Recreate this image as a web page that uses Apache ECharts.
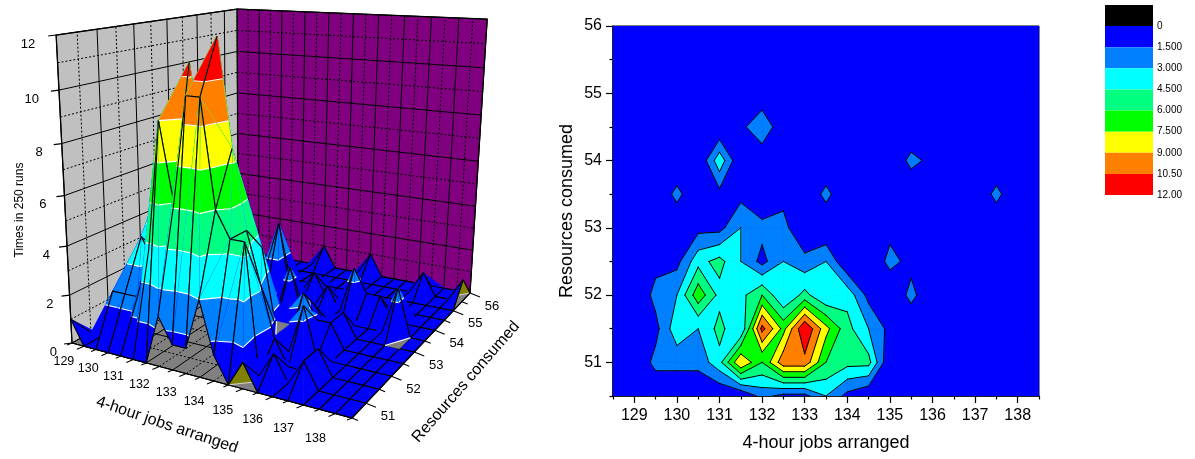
<!DOCTYPE html>
<html><head><meta charset="utf-8">
<style>html,body{margin:0;padding:0;background:#fff}#c{width:1195px;height:459px}</style>
<script src="https://cdn.jsdelivr.net/npm/echarts@6/dist/echarts.min.js"></script>
</head><body><div id="c"></div>
<script>
// ---- data: hits per cell, x = 128.5..138.5 by 0.5 (21 columns), one array per resources level
const z505=[1,0,0,0,0,0,0,2,1,1,3,1,0,1,0,0,0,0,0,0,0];
const z510=[0,0,2,2,2,4,9,6,10,10,6,5,5,0,1,0,1,0,0,0,0];
const z515=[0,0,1,4,3,5,3,11,7,12,8,5,3,1,0,0,1,0,0,0,0];
const z520=[0,0,2,3,7,4,4,6,3,5,3,4,1,0,2,0,0,0,0,0,0];
const z525=[0,0,1,1,4,5,3,1,3,2,3,0,0,2,1,1,0,0,0,0,0];
const z530=[0,0,0,0,1,1,3,2,2,0,0,0,0,1,0,1,0,0,0,0,0];
const z535=[0,0,0,2,0,1,1,0,1,0,2,0,0,0,0,0,0,0,2,0,0];
const z540=[0,0,0,0,0,4,0,0,0,0,0,0,1,0,2,1,1,0,0,0,0];
const z545=[0,0,0,0,0,0,1,3,0,0,1,0,0,0,0,0,0,0,0,0,0];
const z550=[0,0,0,0,0,0,0,0,0,0,0,0,0,0,0,0,0,0,0,0,0];
const z555=[0,0,0,0,0,0,0,0,0,0,0,0,0,0,0,0,0,1,0,0,1];
const z560=[0,0,0,0,0,0,0,0,1,0,0,0,1,0,0,0,0,0,0,0,0];
const zRows=[z505,z510,z515,z520,z525,z530,z535,z540,z545,z550,z555,z560];
const xStart=128.5, yStart=50.5, step=0.5;
const xTickLabels=[129,130,131,132,133,134,135,136,137,138];
const yTickLabels=[51,52,53,54,55,56];
const zTickLabels=[0,2,4,6,8,10,12];
const levels=[0,1.5,3,4.5,6,7.5,9,10.5,12];
const levelLabels=['0','1.500','3.000','4.500','6.000','7.500','9.000','10.50','12.00'];
const bandColors=['#000000','#0000FF','#0080FF','#00FFFF','#00FF80','#00FF00','#FFFF00','#FF8000','#FF0000'];
const xName='4-hour jobs arranged', yName='Resources consumed', zName='Times in 250 runs';
const nCols=z505.length, nRows=zRows.length;
// spots where the floor shows through the surface: grid cells as [c,r] triples
const floorGaps=[[[18,5],[19,5],[19,6]],[[10,5],[11,5],[11,4]]];

// ---- geometry helpers for bands of a grid cell
function clip(poly,L,above){const o=[];for(let i=0;i<poly.length;i++){const a=poly[i],b=poly[(i+1)%poly.length];
  const ai=above?a.z>=L:a.z<=L, bi=above?b.z>=L:b.z<=L; if(ai)o.push(a);
  if(ai!==bi){const t=(L-a.z)/(b.z-a.z);o.push({c:a.c+(b.c-a.c)*t,r:a.r+(b.r-a.r)*t,z:L})}}return o}
const G=(i,j)=>({c:i,r:j,z:zRows[j][i]});
function cell(c,r){return [G(c,r),G(c+1,r),G(c+1,r+1),G(c,r+1)]}
function crossings(q,L){const cr=[];for(let i=0;i<q.length;i++){const a=q[i],b=q[(i+1)%q.length];
  if((a.z>=L)!==(b.z>=L)){const t=(L-a.z)/(b.z-a.z);cr.push({c:a.c+(b.c-a.c)*t,r:a.r+(b.r-a.r)*t,z:L})}else cr.push(null)}return cr}
function isSaddle(q,L){return q.length===4&&(q[0].z>=L)===(q[2].z>=L)&&(q[1].z>=L)===(q[3].z>=L)&&(q[0].z>=L)!==(q[1].z>=L)}
// region z>=L of a cell; where two opposite corners are high they stay separate
function above(q,L){if(isSaddle(q,L)){const e=crossings(q,L);
    return q[0].z>=L?[[q[0],e[0],e[3]],[q[2],e[2],e[1]]]:[[q[1],e[1],e[0]],[q[3],e[3],e[2]]]}
  const p=clip(q,L,true);return p.length>2?[p]:[]}
function isoSegs(q,L){const e=crossings(q,L);
  if(isSaddle(q,L))return q[0].z>=L?[[e[3],e[0]],[e[1],e[2]]]:[[e[0],e[1]],[e[2],e[3]]];
  const f=e.filter(Boolean);return f.length===2?[f]:[]}

// ---- 3D camera (floor corners, vertical vanishing point, wall height)
const A=[72,343],B=[352,418],C=[470,293],D=[238,250],VP=[250,3800],kTop=-0.0818,zMax=12;
const sx=A[0]-B[0]+C[0]-D[0],sy=A[1]-B[1]+C[1]-D[1],dx1=B[0]-C[0],dx2=D[0]-C[0],dy1=B[1]-C[1],dy2=D[1]-C[1];
const det=dx1*dy2-dx2*dy1,hg=(sx*dy2-dx2*sy)/det,hh=(dx1*sy-sx*dy1)/det;
const ha=B[0]-A[0]+hg*B[0],hb=D[0]-A[0]+hh*D[0],hd=B[1]-A[1]+hg*B[1],he=D[1]-A[1]+hh*D[1];
function proj(c,r,z){const u=c/(nCols-1),v=r/(nRows-1),k=kTop*z/zMax;
  const W=hg*u+hh*v+1+k;return [(ha*u+hb*v+A[0]+VP[0]*k)/W,(hd*u+he*v+A[1]+VP[1]*k)/W]}
const P=p=>proj(p.c,p.r,p.z);

const textFont='"Liberation Sans",Arial,sans-serif';
function line(api,pts,stroke,w,dash){return {type:'polyline',silent:true,shape:{points:pts.map(p=>api.coord(p))},
  style:{stroke,lineWidth:w,fill:null,lineDash:dash||null}}}
function poly(api,pts,fill,sw){return {type:'polygon',silent:true,shape:{points:pts.map(p=>api.coord(p))},style:{fill,stroke:fill,lineWidth:sw===undefined?0.6:sw}}}
function label(api,p,text,size,align,rot){const q=api.coord(p);return {type:'text',silent:true,x:q[0],y:q[1],rotation:rot||0,
  style:{text:String(text),font:size+'px '+textFont,fill:'#000',textAlign:align||'center',textVerticalAlign:'middle'}}}

// ---- 3D back walls and floor
function renderBox(params,api){const ch=[];const dash=[2,2],K='#000';
  ch.push(poly(api,[proj(0,0,0),proj(0,nRows-1,0),proj(0,nRows-1,zMax),proj(0,0,zMax)],'#C0C0C0'));
  ch.push(poly(api,[proj(0,nRows-1,0),proj(nCols-1,nRows-1,0),proj(nCols-1,nRows-1,zMax),proj(0,nRows-1,zMax)],'#800080'));
  ch.push(poly(api,[proj(0,0,0),proj(nCols-1,0,0),proj(nCols-1,nRows-1,0),proj(0,nRows-1,0)],'#808080'));
  for(let r=0;r<nRows;r++){const d=r%2?dash:null;
    ch.push(line(api,[proj(0,r,0),proj(0,r,zMax)],K,1,d));
    ch.push(line(api,[proj(0,r,0),proj(nCols-1,r,0)],K,1,d));}
  for(let c=0;c<nCols;c++){const d=c%2?dash:null;
    ch.push(line(api,[proj(c,nRows-1,0),proj(c,nRows-1,zMax)],K,1,d));
    ch.push(line(api,[proj(c,0,0),proj(c,nRows-1,0)],K,1,d));}
  for(let z=0;z<=zMax;z++){const d=z%2?dash:null;
    ch.push(line(api,[proj(0,0,z),proj(0,nRows-1,z)],K,1,d));
    ch.push(line(api,[proj(0,nRows-1,z),proj(nCols-1,nRows-1,z)],K,1,d));}
  ch.push(line(api,[proj(0,0,0),proj(0,0,zMax),proj(0,nRows-1,zMax),proj(nCols-1,nRows-1,zMax),proj(nCols-1,nRows-1,0)],K,1.3));
  ch.push(line(api,[proj(0,nRows-1,0),proj(0,nRows-1,zMax)],K,1.3));
  return {type:'group',children:ch}}

// undersides showing below the hanging surface edge
const undersidePeaks=[{from:[12,0],peak:[13,0],to:[14,0],part:0.65},{from:[20,11],peak:[20,10],to:[20,9],part:0.5}];
function renderUnder(params,api){const e=undersidePeaks[api.value(0)];const zv=(p)=>zRows[p[1]][p[0]];
  const f=proj(e.from[0],e.from[1],zv(e.from)),a=e.peak,b=e.to,t=e.part;
  const pk=proj(a[0],a[1],zv(a)),m=proj(a[0]+(b[0]-a[0])*t,a[1]+(b[1]-a[1])*t,zv(a)+(zv(b)-zv(a))*t),en=proj(b[0],b[1],zv(b));
  return {type:'group',children:[poly(api,[f,m,en],'#808080'),poly(api,[f,pk,m],'#808000'),line(api,[f,m],'#D8D8D8',1),line(api,[f,pk,en],'#000',1.1)]}}
function renderGaps(params,api){const t=floorGaps[api.value(0)].map(p=>proj(p[0],p[1],0));
  return {type:'group',children:[poly(api,t,'#808080'),line(api,[t[0],t[2]],'#FFFFFF',1.1)]}}

// ---- 3D surface, one cell at a time from back to front
function renderCell(params,api){const c=api.value(0),r=api.value(1),q=cell(c,r),ch=[];
  const d1=q[0].z+q[2].z,d2=q[1].z+q[3].z;
  const tris=d1>=d2?[[q[0],q[2],q[3]],[q[0],q[1],q[2]]]:[[q[1],q[2],q[3]],[q[0],q[1],q[3]]];
  for(const t of tris){
    for(let i=0;i<levels.length-1;i++){for(const p of above(t,levels[i]))ch.push(poly(api,p.map(P),bandColors[i+1],0.4))}
    for(let i=1;i<levels.length-1;i++){for(const s of isoSegs(t,levels[i]))ch.push(line(api,s.map(P),'#FFFFFF',1.1))}
  }
  for(let i=0;i<4;i++){const a=q[i],b=q[(i+1)%4];
    if(Math.min(a.r,b.r)>=2&&Math.max(a.z,b.z)>=6)continue;
    ch.push(line(api,[P(a),P(b)],'#000',1.1))}
  return {type:'group',children:ch}}

// ---- 3D axes
function renderAxes(params,api){const ch=[],K='#000';
  ch.push(line(api,[proj(0,0,0),proj(nCols-1,0,0),proj(nCols-1,nRows-1,0)],K,1.2));
  for(let c=0;c<nCols;c++){const p=proj(c,0,0),l=(c%2)?1:0.7;ch.push(line(api,[p,[p[0]-7*l,p[1]+3*l]],K,1.1))}
  for(let r=0;r<nRows;r++){const p=proj(nCols-1,r,0),l=(r%2)?1:0.6;ch.push(line(api,[p,[p[0]+10*l,p[1]+4*l]],K,1.1))}
  for(const v of zTickLabels){const p=proj(0,0,v);ch.push(line(api,[p,[p[0]-8,p[1]+1]],K,1.2));
    ch.push(label(api,[p[0]-15-0.5*v,p[1]+9],v,13,'right'))}
  for(const v of xTickLabels){const c=(v-xStart)/step,p=proj(c,0,0);ch.push(label(api,[p[0]-20,p[1]+15+(c-1)*0.55],v,12.5))}
  for(const v of yTickLabels){const r=(v-yStart)/step,p=proj(nCols-1,r,0);ch.push(label(api,[p[0]+22,p[1]+13],v,13))}
  ch.push(label(api,[167,425],xName,16,'center',-18.6*Math.PI/180));
  ch.push(label(api,[466,382],yName,16,'center',49*Math.PI/180));
  ch.push(label(api,[20,210],zName,12,'center',Math.PI/2));
  return {type:'group',children:ch}}

// ---- 2D contour: each level is laid over the ones below it
const toXY=p=>[xStart+p.c*step,yStart+p.r*step];
function renderContour(params,api){const i=api.value(2),ch=[];
  for(let r=0;r<nRows-1;r++)for(let c=0;c<nCols-1;c++)for(const p of above(cell(c,r),levels[i]))ch.push(poly(api,p.map(toXY),bandColors[i+1]));
  return {type:'group',children:ch}}
function renderIso(params,api){const c=Math.round((api.value(0)-xStart)/step),r=Math.round((api.value(1)-yStart)/step),q=cell(c,r),ch=[];
  for(let i=1;i<levels.length;i++)for(const s of isoSegs(q,levels[i])){const el=line(api,s.map(toXY),'#000',1);el.style.lineCap='round';ch.push(el)}
  return {type:'group',children:ch}}
function renderLegend(params,api){const i=api.value(0),a=api.coord([0,i]),b=api.coord([1,i+1]);
  return {type:'rect',silent:true,shape:{x:a[0],y:a[1],width:b[0]-a[0],height:b[1]-a[1]},style:{fill:bandColors[i]}}}

const contourData=[];for(let r=0;r<nRows-1;r++)for(let c=0;c<nCols-1;c++)contourData.push([xStart+c*step,yStart+r*step]);
const levelData=levels.slice(0,-1).map((l,i)=>[xStart,yStart,i]);
const surfaceData=[];for(let r=nRows-2;r>=0;r--)for(let c=0;c<nCols-1;c++)surfaceData.push([c,r]);
const tickFont={fontFamily:'"Liberation Sans",Arial,sans-serif',fontSize:16,color:'#000'};
const nameFont={fontFamily:'"Liberation Sans",Arial,sans-serif',fontSize:18,color:'#000'};
const axisLine={show:true,lineStyle:{color:'#000',width:1.5}};
const xMajor=xTickLabels, yMajor=yTickLabels;
const xHalfVals=[];for(let i=0;i<nCols;i+=2)xHalfVals.push(xStart+i*step);
const yHalfVals=[];for(let i=0;i<nRows;i+=2)yHalfVals.push(yStart+i*step);
const tickLine={color:'#000',width:1.2};

const chart=echarts.init(document.getElementById('c'),null,{renderer:'canvas'});
chart.setOption({animation:false,backgroundColor:'#fff',
  grid:[{left:613,top:26,width:426,height:370,show:true,borderColor:'#000',borderWidth:1,backgroundColor:'#0000FF',z:3},
        {left:0,top:0,right:0,bottom:0},
        {left:1105,top:5,width:48,height:190}],
  xAxis:[
   {gridIndex:0,type:'value',position:'bottom',min:xStart,max:138.5,interval:0.5,name:xName,nameLocation:'middle',nameGap:38,nameTextStyle:nameFont,
    axisLine,splitLine:{show:false},axisTick:{show:true,length:7,customValues:xMajor,lineStyle:tickLine},
    axisLabel:{show:true,customValues:xMajor,margin:12,...tickFont}},
   {gridIndex:0,type:'value',position:'bottom',min:xStart,max:138.5,interval:0.5,axisLine:{show:false},splitLine:{show:false},
    axisTick:{show:true,length:3.5,customValues:xHalfVals,lineStyle:tickLine},axisLabel:{show:false}},
   {gridIndex:1,type:'value',min:0,max:1195,show:false},
   {gridIndex:2,type:'value',min:0,max:1,show:false}],
  yAxis:[
   {gridIndex:0,type:'value',position:'left',min:yStart,max:56,interval:0.5,name:yName,nameLocation:'middle',nameGap:37,nameTextStyle:nameFont,
    axisLine,splitLine:{show:false},axisTick:{show:true,length:7,customValues:yMajor,lineStyle:tickLine},
    axisLabel:{show:true,customValues:yMajor,margin:11,...tickFont}},
   {gridIndex:0,type:'value',position:'left',min:yStart,max:56,interval:0.5,axisLine:{show:false},splitLine:{show:false},
    axisTick:{show:true,length:3.5,customValues:yHalfVals,lineStyle:tickLine},axisLabel:{show:false}},
   {gridIndex:1,type:'value',min:0,max:459,inverse:true,show:false},
   {gridIndex:2,type:'value',min:0,max:levels.length,interval:1,inverse:true,position:'right',
    axisLine:{show:false},axisTick:{show:false},splitLine:{show:false},
    axisLabel:{show:true,margin:4,padding:[3,0,0,0],fontFamily:'"Liberation Sans",Arial,sans-serif',fontSize:10,color:'#000',
      customValues:levelLabels.map((t,i)=>i+1),formatter:v=>levelLabels[v-1]}}],
  series:[
   {type:'custom',xAxisIndex:2,yAxisIndex:2,data:[[0,0]],renderItem:renderBox,clip:false,z:1},
   {type:'custom',xAxisIndex:2,yAxisIndex:2,data:surfaceData,renderItem:renderCell,clip:false,z:2},
   {type:'custom',xAxisIndex:2,yAxisIndex:2,data:floorGaps.map((e,i)=>[i,0]),renderItem:renderGaps,clip:false,z:3},
   {type:'custom',xAxisIndex:2,yAxisIndex:2,data:undersidePeaks.map((e,i)=>[i,0]),renderItem:renderUnder,clip:false,z:3},
   {type:'custom',xAxisIndex:2,yAxisIndex:2,data:[[0,0]],renderItem:renderAxes,clip:false,z:4},
   {type:'custom',xAxisIndex:0,yAxisIndex:0,data:levelData,renderItem:renderContour,clip:true,encode:{x:0,y:1},z:5},
   {type:'custom',xAxisIndex:0,yAxisIndex:0,data:contourData,renderItem:renderIso,clip:true,z:6},
   {type:'custom',xAxisIndex:3,yAxisIndex:3,data:bandColors.map((b,i)=>[i,0]),renderItem:renderLegend,clip:false,encode:{x:1,y:0},z:7}
  ]});
</script></body></html>
